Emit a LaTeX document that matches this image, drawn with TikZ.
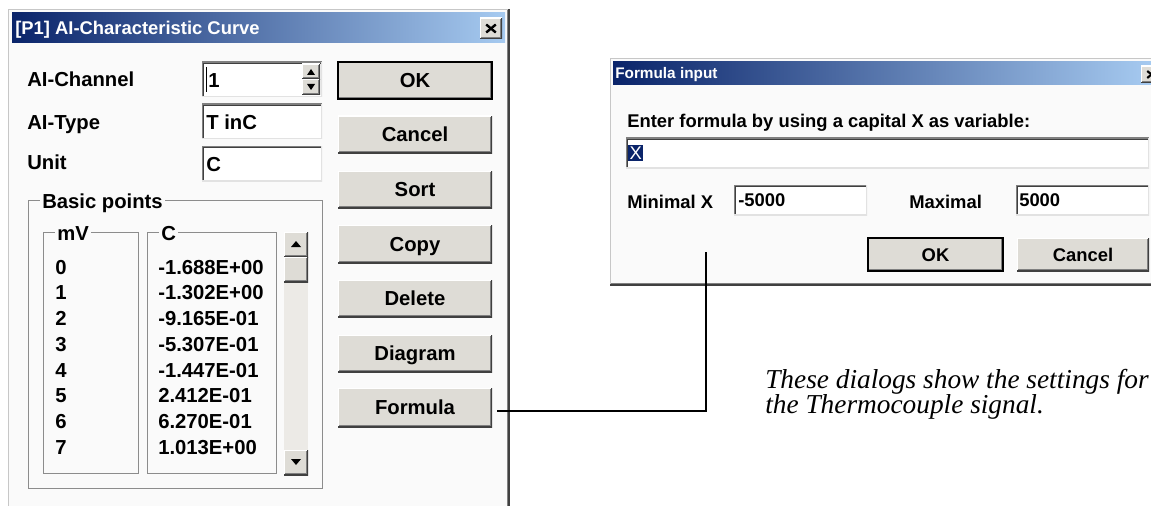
\documentclass[tikz,border=0pt]{standalone}
\usepackage{fontspec}
\setmainfont{Liberation Serif}
\newfontfamily\uifont{Liberation Sans}
\usetikzlibrary{calc}
\definecolor{titleL}{HTML}{0A246A}
\definecolor{titleR}{HTML}{A6CAF0}
\definecolor{face}{HTML}{DEDCD6}
\definecolor{dlgbg}{HTML}{FAFAFA}
\definecolor{shadow}{HTML}{808080}
\definecolor{dkshadow}{HTML}{404040}
\definecolor{etch}{HTML}{8C8C8C}
\definecolor{track}{HTML}{ECEAE6}
\definecolor{light}{HTML}{E2E2E2}
\tikzset{
  bevel/.style={path picture={
    \draw[shadow,line width=1.5pt] ([shift={(0pt,0.75pt)}]path picture bounding box.south west) -- ([shift={(-0.75pt,0.75pt)}]path picture bounding box.south east) -- ([shift={(-0.75pt,0pt)}]path picture bounding box.north east);
    \draw[white,line width=1.5pt] (path picture bounding box.south west) -- (path picture bounding box.north west) -- (path picture bounding box.north east);
    \draw[dkshadow,line width=1.5pt] (path picture bounding box.south west) -- (path picture bounding box.south east) -- (path picture bounding box.north east);
  }},
  sunken/.style={fill=white,path picture={
    \draw[dkshadow,line width=1.5pt] ([shift={(0.75pt,0pt)}]path picture bounding box.south west) -- ([shift={(0.75pt,-0.75pt)}]path picture bounding box.north west) -- ([shift={(0pt,-0.75pt)}]path picture bounding box.north east);
    \draw[shadow,line width=1.5pt] (path picture bounding box.south west) -- (path picture bounding box.north west) -- (path picture bounding box.north east);
    \draw[light,line width=1.5pt] (path picture bounding box.south west) -- (path picture bounding box.south east) -- (path picture bounding box.north east);
  }},
  lt/.style={font=\uifont\bfseries\fontsize{15.2}{18}\selectfont,text height=10.9pt,text depth=0pt,inner sep=0pt},
  rt/.style={font=\uifont\bfseries\fontsize{13.8}{16}\selectfont,text height=9.9pt,text depth=0pt,inner sep=0pt},
  btn/.style={fill=face,bevel},
  defbtn/.style={fill=face,bevel,draw=black,line width=1.2pt},
  field/.style={sunken},
  etched/.style={draw=etch,line width=0.75pt},
  conn/.style={draw=black,line width=1.2pt},
  tri/.style={fill=black},
}
\newcommand\boxnode[7]{\node[#2,minimum width={0.75pt*(#5-#3)},minimum height={0.75pt*(#6-#4)}] (#1) at ({(#3+#5)/2},{(#4+#6)/2}) {#7};}
\begin{document}
\begin{tikzpicture}[x=0.75pt,y=-0.75pt]
\useasboundingbox (0,0) rectangle (1151,506);
\clip (0,0) rectangle (1151,506);
\fill[white] (0,0) rectangle (1151,506);

% ---------------- left dialog ----------------
\fill[dlgbg] (8,9) rectangle (510,506);
\draw[black!22,line width=0.75pt] (8.5,506) -- (8.5,9.5) -- (508,9.5);
\draw[shadow,line width=0.75pt] (507,10) -- (507,506);
\draw[dkshadow,line width=1.5pt] (509,9) -- (509,506);
\shade[left color=titleL,right color=titleR] (12,13) rectangle (505,43);
\node[font=\uifont\bfseries\fontsize{13.8}{16}\selectfont,text height=9.9pt,text depth=0pt,inner sep=0pt,text=white,anchor=west] (titleA) at (15,28) {[P1] AI-Characteristic Curve};
\boxnode{closeA}{btn}{480}{18}{502}{39}{}
\draw[line width=1.8pt] ([shift={(-3.6pt,3pt)}]closeA.center) -- ([shift={(3.6pt,-3pt)}]closeA.center);
\draw[line width=1.8pt] ([shift={(-3.6pt,-3pt)}]closeA.center) -- ([shift={(3.6pt,3pt)}]closeA.center);

\node[lt,anchor=west] (lblChan) at (27,79) {AI-Channel};
\node[lt,anchor=west] (lblType) at (27,122) {AI-Type};
\node[lt,anchor=west] (lblUnit) at (27,162) {Unit};

\boxnode{fChan}{field}{202}{62}{322}{97}{}
\boxnode{fType}{field}{202}{104}{322}{139}{}
\boxnode{fUnit}{field}{202}{146}{322}{181}{}
\draw[black,line width=0.75pt] (206,67) -- (206,92);
\node[lt,anchor=west] (vChan) at (208,80) {1};
\node[lt,anchor=west] (vType) at (206,122) {T inC};
\node[lt,anchor=west] (vUnit) at (206,164) {C};
% spinner
\boxnode{spUp}{btn}{302}{64}{320}{79.5}{}
\boxnode{spDn}{btn}{302}{79.5}{320}{95}{}
\fill[tri] (307,75) -- (315,75) -- (311,69) -- cycle;
\fill[tri] (307,84) -- (315,84) -- (311,90) -- cycle;

% buttons
\boxnode{ok}{defbtn,lt}{338}{62}{492}{99}{OK}
\boxnode{cancel}{btn,lt}{338}{116}{492}{153}{Cancel}
\boxnode{sort}{btn,lt}{338}{171}{492}{208}{Sort}
\boxnode{copy}{btn,lt}{338}{225}{492}{263}{Copy}
\boxnode{delete}{btn,lt}{338}{280}{492}{317}{Delete}
\boxnode{diagram}{btn,lt}{338}{335}{492}{372}{Diagram}
\boxnode{formula}{btn,lt}{338}{388}{492}{427}{Formula}

% basic points group
\draw[etched] (28,200) rectangle (322,488);
\node[lt,anchor=west,fill=dlgbg,inner xsep=1.5pt] (grpLbl) at (40,201) {Basic points};
\draw[etched] (43,232) rectangle (138,473);
\node[lt,anchor=west,fill=dlgbg,inner xsep=1.5pt] (mvLbl) at (55,233) {mV};
\draw[etched] (147,232) rectangle (276,473);
\node[lt,anchor=west,fill=dlgbg,inner xsep=1.5pt] (cLbl) at (159,233) {C};
\foreach \v [count=\i from 0] in {-1.688E+00,-1.302E+00,-9.165E-01,-5.307E-01,-1.447E-01,2.412E-01,6.270E-01,1.013E+00}{
  \node[lt,anchor=west] (mv\i) at (55,{267+25.7*\i}) {\i};
  \node[lt,anchor=west] (cv\i) at (158,{267+25.7*\i}) {\v};
}
% scrollbar
\fill[track] (284,232) rectangle (308,475);
\boxnode{sbUp}{btn}{284}{232}{308}{257}{}
\boxnode{sbThumb}{btn}{284}{257}{308}{282}{}
\boxnode{sbDn}{btn}{284}{450}{308}{475}{}
\fill[tri] (291,247) -- (301,247) -- (296,241) -- cycle;
\fill[tri] (291,459) -- (301,459) -- (296,465) -- cycle;

% ---------------- right dialog ----------------
\fill[dlgbg] (610,58) rectangle (1151,285);
\draw[black!22,line width=0.75pt] (610.5,285) -- (610.5,58.5) -- (1151,58.5);
\draw[dkshadow,line width=1.5pt] (610,285) -- (1151,285);
\draw[shadow,line width=0.75pt] (611,283) -- (1151,283);
\shade[left color=titleL,right color=titleR] (613,62) rectangle (1151,85);
\node[font=\uifont\bfseries\fontsize{11.5}{14}\selectfont,text height=8.2pt,text depth=0pt,inner sep=0pt,text=white,anchor=west] (titleB) at (615,73.5) {Formula input};
\boxnode{closeB}{btn}{1141}{66}{1162}{83}{}
\draw[line width=1.6pt] ([shift={(-3.2pt,2.6pt)}]closeB.center) -- ([shift={(3.2pt,-2.6pt)}]closeB.center);
\draw[line width=1.6pt] ([shift={(-3.2pt,-2.6pt)}]closeB.center) -- ([shift={(3.2pt,2.6pt)}]closeB.center);

\node[rt,anchor=west] (prompt) at (627,121) {Enter formula by using a capital X as variable:};
\boxnode{fFormula}{field}{626}{138}{1149}{168}{}
\node[fill=titleL,text=white,font=\uifont\fontsize{13.8}{16}\selectfont,inner xsep=1pt,inner ysep=1.5pt,anchor=west] (selX) at (628,153) {X};
\node[rt,anchor=west] (lblMin) at (627,202) {Minimal X};
\boxnode{fMin}{field}{734}{185}{867}{215}{}
\node[rt,anchor=west] (vMin) at (738,200) {-5000};
\node[rt,anchor=west] (lblMax) at (909,202) {Maximal};
\boxnode{fMax}{field}{1016}{185}{1149}{215}{}
\node[rt,anchor=west] (vMax) at (1019,200) {5000};
\boxnode{okB}{defbtn,rt}{868}{238}{1003}{271}{OK}
\boxnode{cancelB}{btn,rt}{1017}{238}{1149}{271}{Cancel}

% ---------------- connector and caption ----------------
\coordinate (tip) at (706,252);
\draw[conn] ([shift={(3.75pt,-2.5pt)}]formula.east) -| (tip);
\node[font=\itshape\fontsize{20.5}{19}\selectfont,align=left,anchor=north west,inner sep=0pt] (caption) at (765,369) {These dialogs show the settings for\\the Thermocouple signal.};
\end{tikzpicture}
\end{document}
